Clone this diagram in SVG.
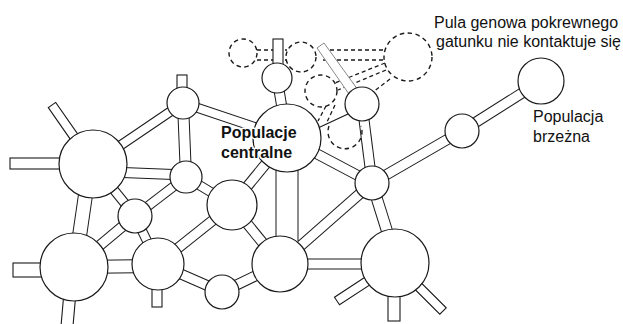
<svg xmlns="http://www.w3.org/2000/svg" width="623" height="324" viewBox="0 0 623 324">
<style>
.bo line{stroke:#1a1a1a;stroke-linecap:butt}
.bi line{stroke:#fff;stroke-linecap:butt}
.stub{fill:#fff;stroke:#1a1a1a;stroke-width:1.1}
.dash{fill:none;stroke:#1a1a1a;stroke-width:1.3;stroke-dasharray:4 3}
.n{fill:#fff;stroke:#1a1a1a;stroke-width:1.2}
.d{fill:none;stroke:#1a1a1a;stroke-width:1.4;stroke-dasharray:4.5 3.5}
.lbl{font-family:"Liberation Sans",Arial,sans-serif;font-size:16px;fill:#111}
.bold{font-weight:bold;stroke:#fff;stroke-width:3;paint-order:stroke;stroke-linejoin:round}
</style>
<g id="connectors">
  <g id="dashed-links">
    <line class="dash" x1="257" y1="50" x2="287" y2="50"/>
    <line class="dash" x1="257" y1="60" x2="287" y2="60"/>
    <line class="dash" x1="323" y1="50" x2="386" y2="50"/>
    <line class="dash" x1="323" y1="60" x2="385" y2="60"/>
    <line class="dash" x1="385" y1="63" x2="335" y2="83"/>
    <line class="dash" x1="386" y1="70" x2="338" y2="90"/>
    <line class="dash" x1="390" y1="79" x2="373" y2="92"/>
    <line class="dash" x1="326" y1="106" x2="318" y2="121"/>
    <line class="dash" x1="335" y1="105" x2="327" y2="122"/>
  </g>
  <polygon points="317,48 324,43 366,101 358,107" fill="#fff" stroke="#888" stroke-width="1"/>
  <g class="bo">
    <line x1="183" y1="103" x2="287" y2="138" stroke-width="10"/>
    <line x1="183" y1="103" x2="186" y2="177" stroke-width="12"/>
    <line x1="183" y1="103" x2="93" y2="164" stroke-width="10"/>
    <line x1="110" y1="172" x2="186" y2="175" stroke-width="11"/>
    <line x1="93" y1="164" x2="135" y2="216" stroke-width="10"/>
    <line x1="90" y1="164" x2="75" y2="267" stroke-width="15"/>
    <line x1="186" y1="177" x2="135" y2="216" stroke-width="10"/>
    <line x1="186" y1="177" x2="232" y2="205" stroke-width="10"/>
    <line x1="135" y1="216" x2="74" y2="267" stroke-width="11"/>
    <line x1="135" y1="216" x2="158" y2="264" stroke-width="10"/>
    <line x1="74" y1="267" x2="158" y2="266" stroke-width="14"/>
    <line x1="158" y1="264" x2="232" y2="205" stroke-width="11"/>
    <line x1="158" y1="264" x2="222" y2="292" stroke-width="11"/>
    <line x1="232" y1="205" x2="287" y2="138" stroke-width="11"/>
    <line x1="232" y1="205" x2="280" y2="264" stroke-width="11"/>
    <line x1="287" y1="140" x2="287" y2="252" stroke-width="23"/>
    <line x1="280" y1="264" x2="222" y2="292" stroke-width="11"/>
    <line x1="280" y1="264" x2="372" y2="183" stroke-width="11"/>
    <line x1="280" y1="264" x2="395" y2="264" stroke-width="11"/>
    <line x1="397" y1="263" x2="372" y2="183" stroke-width="12"/>
    <line x1="372" y1="183" x2="287" y2="138" stroke-width="11"/>
    <line x1="372" y1="183" x2="362" y2="104" stroke-width="11"/>
    <line x1="372" y1="183" x2="462" y2="131" stroke-width="11"/>
    <line x1="462" y1="131" x2="541" y2="81" stroke-width="11"/>
    <line x1="277" y1="78" x2="287" y2="138" stroke-width="11"/>
  </g>
  <g class="bi">
    <line x1="183" y1="103" x2="287" y2="138" stroke-width="8"/>
    <line x1="183" y1="103" x2="186" y2="177" stroke-width="10"/>
    <line x1="183" y1="103" x2="93" y2="164" stroke-width="8"/>
    <line x1="110" y1="172" x2="186" y2="175" stroke-width="9"/>
    <line x1="93" y1="164" x2="135" y2="216" stroke-width="8"/>
    <line x1="90" y1="164" x2="75" y2="267" stroke-width="13"/>
    <line x1="186" y1="177" x2="135" y2="216" stroke-width="8"/>
    <line x1="186" y1="177" x2="232" y2="205" stroke-width="8"/>
    <line x1="135" y1="216" x2="74" y2="267" stroke-width="9"/>
    <line x1="135" y1="216" x2="158" y2="264" stroke-width="8"/>
    <line x1="74" y1="267" x2="158" y2="266" stroke-width="12"/>
    <line x1="158" y1="264" x2="232" y2="205" stroke-width="9"/>
    <line x1="158" y1="264" x2="222" y2="292" stroke-width="9"/>
    <line x1="232" y1="205" x2="287" y2="138" stroke-width="9"/>
    <line x1="232" y1="205" x2="280" y2="264" stroke-width="9"/>
    <line x1="287" y1="140" x2="287" y2="252" stroke-width="21"/>
    <line x1="280" y1="264" x2="222" y2="292" stroke-width="9"/>
    <line x1="280" y1="264" x2="372" y2="183" stroke-width="9"/>
    <line x1="280" y1="264" x2="395" y2="264" stroke-width="9"/>
    <line x1="397" y1="263" x2="372" y2="183" stroke-width="10"/>
    <line x1="372" y1="183" x2="287" y2="138" stroke-width="9"/>
    <line x1="372" y1="183" x2="362" y2="104" stroke-width="9"/>
    <line x1="372" y1="183" x2="462" y2="131" stroke-width="9"/>
    <line x1="462" y1="131" x2="541" y2="81" stroke-width="9"/>
    <line x1="277" y1="78" x2="287" y2="138" stroke-width="9"/>
  </g>
  <line x1="318" y1="128" x2="348" y2="114" stroke="#1a1a1a" stroke-width="1.2"/>
  <g id="stubs">
    <rect class="stub" x="177" y="75" width="10" height="20"/>
    <rect class="stub" x="273" y="39" width="10" height="28"/>
    <rect class="stub" x="10" y="158" width="55" height="11"/>
    <polygon class="stub" points="55.7,102.4 48.3,107.6 71.1,140.4 78.5,135.2"/>
    <rect class="stub" x="13" y="263" width="40" height="14"/>
    <polygon class="stub" points="64,292 76,292 73,326 61,326"/>
    <rect class="stub" x="152" y="282" width="10" height="25"/>
    <polygon class="stub" points="339.5,304.8 334.5,297.2 367.9,275.3 372.9,282.9"/>
    <rect class="stub" x="388" y="285" width="12" height="36"/>
    <polygon class="stub" points="446.2,307.8 439.8,314.2 411.5,285.9 417.9,279.5"/>
  </g>
</g>
<g id="nodes">
  <g id="gene-pool-1"><circle class="d" cx="243" cy="53" r="14"/></g>
  <g id="gene-pool-2"><circle class="d" cx="301" cy="57" r="15"/></g>
  <g id="gene-pool-3"><circle class="d" cx="321" cy="91" r="16"/></g>
  <g id="gene-pool-4"><circle class="d" cx="408" cy="57" r="24"/></g>
  <g id="gene-pool-5"><path class="d" d="M329,126 A17 17 0 1 0 361,126"/></g>
  <g id="n1"><circle class="n" cx="183" cy="103" r="16"/></g>
  <g id="n2"><circle class="n" cx="93" cy="164" r="34"/></g>
  <g id="n3"><circle class="n" cx="186" cy="177" r="16"/></g>
  <g id="n4"><circle class="n" cx="135" cy="216" r="17"/></g>
  <g id="n5"><circle class="n" cx="232" cy="205" r="25"/></g>
  <g id="central"><circle class="n" cx="287" cy="138" r="34"/></g>
  <g id="n7"><circle class="n" cx="277" cy="78" r="15"/></g>
  <g id="n8"><circle class="n" cx="362" cy="104" r="17"/></g>
  <g id="n9"><circle class="n" cx="372" cy="183" r="17"/></g>
  <g id="n10"><circle class="n" cx="462" cy="131" r="17"/></g>
  <g id="marginal"><circle class="n" cx="541" cy="81" r="23"/></g>
  <g id="n12"><circle class="n" cx="74" cy="267" r="34"/></g>
  <g id="n13"><circle class="n" cx="158" cy="264" r="26"/></g>
  <g id="n14"><circle class="n" cx="222" cy="292" r="17"/></g>
  <g id="n15"><circle class="n" cx="280" cy="264" r="28"/></g>
  <g id="n16"><circle class="n" cx="395" cy="263" r="34"/></g>
</g>
<g id="labels">
  <text class="lbl bold" x="221" y="138">Populacje</text>
  <text class="lbl bold" x="221" y="158">centralne</text>
  <text class="lbl" x="434" y="28">Pula genowa pokrewnego</text>
  <text class="lbl" x="436" y="47">gatunku nie kontaktuje się</text>
  <text class="lbl" x="533" y="122">Populacja</text>
  <text class="lbl" x="533" y="142">brzeżna</text>
</g>
</svg>
